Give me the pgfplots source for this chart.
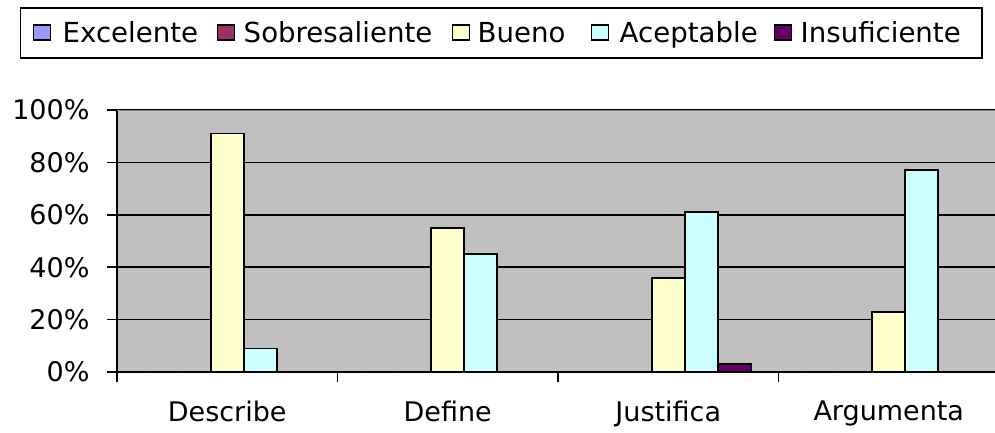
\documentclass[border=0pt]{standalone}
\usepackage{pgfplots}
\pgfplotsset{compat=1.18}
\usepackage{fontspec}
\setmainfont{DejaVu Sans}
\definecolor{bggray}{HTML}{C0C0C0}
\definecolor{cExc}{HTML}{9999FF}
\definecolor{cSob}{HTML}{993366}
\definecolor{cBue}{HTML}{FFFFCC}
\definecolor{cAce}{HTML}{CCFFFF}
\definecolor{cIns}{HTML}{660066}
\newcommand{\tickf}{\fontsize{27}{31}\selectfont}
\newcommand{\legf}{\fontsize{27.6}{31}\selectfont}
\newcommand{\lent}[3]{\hspace*{#1}\makebox[#2][l]{#3}}
\begin{document}
\begin{tikzpicture}
\begin{axis}[
  scale only axis, width=882pt, height=262pt,
  xmin=-0.5, xmax=3.5, ymin=0, ymax=100,
  ybar=0pt, bar width=33pt,
  axis lines*=left,
  axis line style={black, line width=1.6pt},
  axis background/.style={fill=bggray},
  xtick={-0.5,0.5,1.5,2.5,3.5},
  x tick label as interval,
  xticklabels={Describe,Define,Justifica,Argumenta},
  ytick={0,20,40,60,80,100},
  yticklabels={0\%,20\%,40\%,60\%,80\%,100\%},
  tick align=outside, major tick length=10pt,
  tick style={black, line width=1.6pt},
  ymajorgrids, major grid style={black, line width=1.6pt},
  /pgf/number format/assume math mode=true,
  ticklabel style={font=\tickf},
  xticklabel style={yshift=-15pt},
  yticklabel style={xshift=-14pt},
  legend columns=5,
  legend style={at={(axis description cs:0,1)}, anchor=north west,
    xshift=-97pt, yshift=103pt, draw=black, line width=1.5pt,
    font=\legf, inner xsep=12pt, inner ysep=12pt,
    /tikz/column sep=0pt,
    nodes={inner xsep=0pt}},
  legend image code/.code={\draw[#1, draw=black, line width=1.4pt] (0pt,-7pt) rectangle (17pt,8pt);},
]
\addplot[fill=cExc, draw=black, line width=1.8pt] coordinates {(0,0) (1,0) (2,0) (3,0)};
\addplot[fill=cSob, draw=black, line width=1.8pt] coordinates {(0,0) (1,0) (2,0) (3,0)};
\addplot[fill=cBue, draw=black, line width=1.8pt] coordinates {(0,91) (1,55) (2,36) (3,23)};
\addplot[fill=cAce, draw=black, line width=1.8pt] coordinates {(0,9) (1,45) (2,61) (3,77)};
\addplot[fill=cIns, draw=black, line width=1.8pt] coordinates {(0,0) (1,0) (2,3) (3,0)};
\legend{\lent{11.6pt}{154pt}{Excelente},\lent{8.6pt}{208pt}{Sobresaliente},\lent{7.6pt}{113pt}{Bueno},\lent{10.6pt}{154pt}{Aceptable},\lent{8.6pt}{169pt}{Insuficiente}}
\draw[color=gray, line width=2pt] (rel axis cs:0,1) -- (rel axis cs:1,1);
\end{axis}
\pgfresetboundingbox
\path[use as bounding box] ([xshift=-117pt,yshift=-60pt]current axis.south west) rectangle ([xshift=878pt,yshift=372pt]current axis.south west);
\end{tikzpicture}
\end{document}
